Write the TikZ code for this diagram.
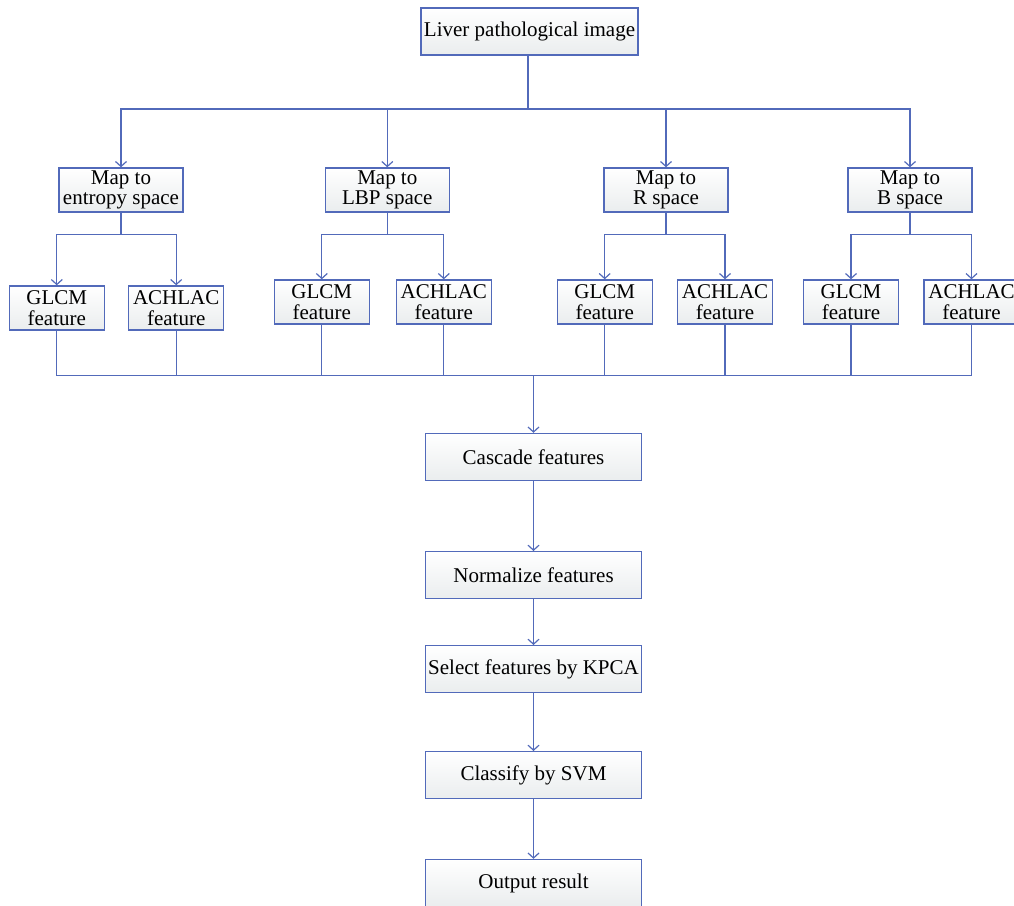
\documentclass[tikz,border=0pt]{standalone}
\usepackage{fontspec}
\setmainfont{Liberation Serif}
\usetikzlibrary{arrows.meta}
\definecolor{lineblue}{RGB}{82,106,186}
\definecolor{boxbot}{RGB}{234,237,238}
\begin{document}
\begin{tikzpicture}[x=1pt,y=-1pt,
  box/.style={draw=lineblue,line width=1.4pt,top color=white,bottom color=boxbot,
    inner sep=0pt,align=center,font=\fontsize{21}{20.5}\selectfont},
  wide/.style={box,minimum width=216pt,minimum height=47pt},
  mapbox/.style={box,minimum width=124pt,minimum height=44pt},
  featbox/.style={box,minimum width=95pt,minimum height=44pt},
  conn/.style={draw=lineblue,line width=1.3pt},
  arr/.style={conn,-{Straight Barb[length=5pt,width=11pt,line width=1.2pt]}}]
\useasboundingbox (0,0) rectangle (1014,905);
% top
\node[wide,minimum width=217pt] (top) at (529.5,31.5) {Liver pathological image};
% map boxes
\node[mapbox] (m1) at (121,190) {Map to\\entropy space};
\node[mapbox] (m2) at (387.3,190) {Map to\\LBP space};
\node[mapbox] (m3) at (666,190) {Map to\\R space};
\node[mapbox] (m4) at (910,190) {Map to\\B space};
% feature boxes
\node[featbox] (g1) at (56.8,308) {GLCM\\feature};
\node[featbox] (a1) at (176.2,308) {ACHLAC\\feature};
\node[featbox] (g2) at (321.8,302) {GLCM\\feature};
\node[featbox] (a2) at (443.8,302) {ACHLAC\\feature};
\node[featbox] (g3) at (604.7,302) {GLCM\\feature};
\node[featbox] (a3) at (725,302) {ACHLAC\\feature};
\node[featbox] (g4) at (851,302) {GLCM\\feature};
\node[featbox] (a4) at (971.5,302) {ACHLAC\\feature};
% bottom chain
\node[wide] (c1) at (533.5,457) {Cascade features};
\node[wide] (c2) at (533.5,575.2) {Normalize features};
\node[wide] (c3) at (533.5,669.2) {Select features by KPCA};
\node[wide] (c4) at (533.5,775.2) {Classify by SVM};
\node[wide] (c5) at (533.5,883) {Output result};
% junctions
\coordinate (j1) at (528,109);
\coordinate (k1) at (121,234.3);
\coordinate (k2) at (387.3,234.3);
\coordinate (k3) at (666,234.3);
\coordinate (k4) at (910,234.3);
\coordinate (jb) at (533.5,375.3);
% connectors
\draw[conn] (top.south -| j1) -- (j1);
\foreach \m in {m1,m2,m3,m4} \draw[arr] (j1) -| (\m.north);
\foreach \m/\k/\g/\a in {m1/k1/g1/a1,m2/k2/g2/a2,m3/k3/g3/a3,m4/k4/g4/a4}{
  \draw[conn] (\m.south) -- (\k);
  \draw[arr] (\k) -| (\g.north);
  \draw[arr] (\k) -| (\a.north);
}
\foreach \f in {g1,a1,g2,a2,g3,a3,g4,a4} \draw[conn] (\f.south) |- (jb);
\draw[arr] (jb) -- (c1.north);
\draw[arr] (c1) -- (c2);
\draw[arr] (c2) -- (c3);
\draw[arr] (c3) -- (c4);
\draw[arr] (c4) -- (c5);
\end{tikzpicture}
\end{document}
